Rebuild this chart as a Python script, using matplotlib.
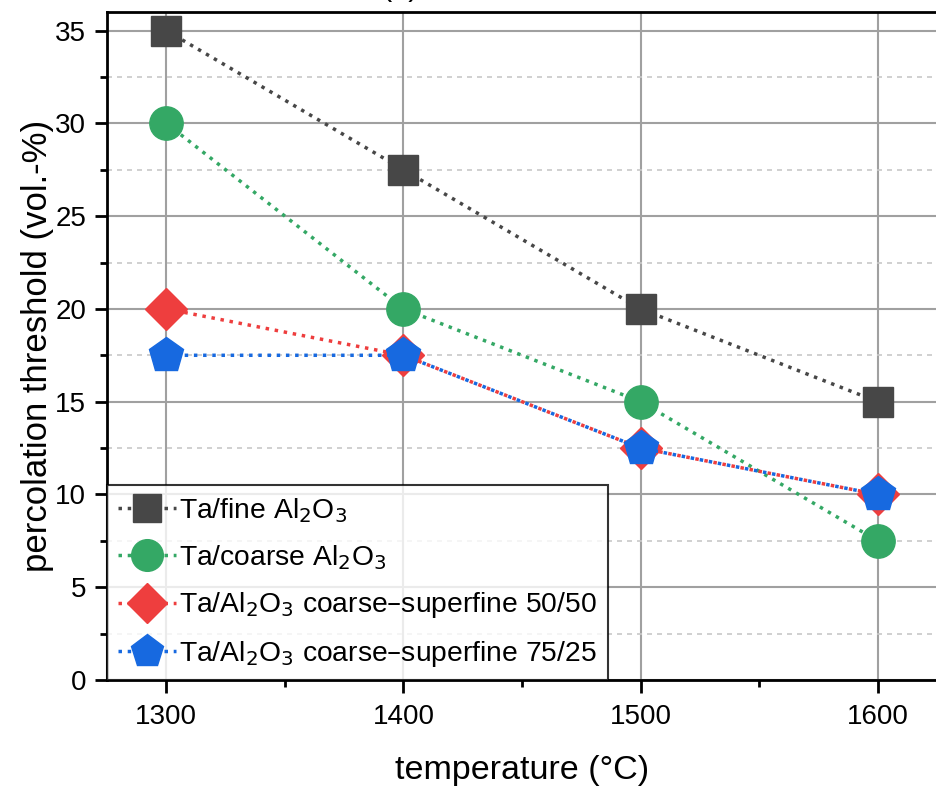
import matplotlib.pyplot as plt
from matplotlib.ticker import MultipleLocator

plt.rcParams['font.family'] = ['Liberation Sans', 'DejaVu Sans']

temps = [1300, 1400, 1500, 1600]
fine = [35, 27.5, 20, 15]
coarse = [30, 20, 15, 7.5]
mix_50 = [20, 17.5, 12.5, 10]
mix_75 = [17.5, 17.5, 12.5, 10]

labels = ["Ta/fine Al$_2$O$_3$",
          "Ta/coarse Al$_2$O$_3$",
          "Ta/Al$_2$O$_3$ coarse\u2013superfine 50/50",
          "Ta/Al$_2$O$_3$ coarse\u2013superfine 75/25"]

fig = plt.figure(figsize=(9.37, 7.87), dpi=100)
ax = fig.add_axes([107 / 937, 1 - 680 / 787, 1 - 107 / 937, (680 - 12) / 787])

ax.plot(temps, fine, ls=':', lw=2.5, color='#474747', marker='s', ms=21,
        label=labels[0], zorder=3)
ax.plot(temps, coarse, ls=':', lw=2.5, color='#34a865', marker='o', ms=24,
        label=labels[1], zorder=3)
ax.plot(temps, mix_50, ls=':', lw=2.5, color='#ee3e3e', marker='D', ms=21.5,
        label=labels[2], zorder=3)
ax.plot(temps, mix_75, ls=':', lw=2.5, color='#1769e0', marker='p', ms=26,
        label=labels[3], zorder=4)

ax.set_xlim(1275, 1625)
ax.set_ylim(0, 36)
ax.xaxis.set_major_locator(MultipleLocator(100))
ax.xaxis.set_minor_locator(MultipleLocator(50))
ax.yaxis.set_major_locator(MultipleLocator(5))
ax.yaxis.set_minor_locator(MultipleLocator(2.5))

ax.grid(True, which='major', color='#a0a0a0', lw=1.5)
ax.grid(True, which='minor', axis='y', color='#c8c8c8', lw=1.2, ls=(0, (3, 3)))
ax.set_axisbelow(True)

for s in ['left', 'bottom', 'top']:
    ax.spines[s].set_linewidth(2)
ax.spines['right'].set_visible(False)

ax.tick_params(which='major', direction='out', length=9, width=2, labelsize=20)
ax.tick_params(which='minor', direction='out', length=5, width=2)
ax.tick_params(axis='x', pad=8)
ax.tick_params(axis='y', pad=6)

ax.set_xlabel("temperature (\u00b0C)", fontsize=24.5, labelpad=18)
ax.set_ylabel("percolation threshold (vol.-%)", fontsize=25, labelpad=1)

# title sits mostly above the cropped figure edge, as in the source image
fig.text(400 / 937, 1 - 2 / 787, "(a)", fontsize=22, ha='center', va='bottom')

leg = ax.legend(loc='lower left', fontsize=20.3, frameon=True, fancybox=False,
                edgecolor='black', borderaxespad=0, handlelength=2.05,
                handletextpad=0.12, borderpad=0.4, labelspacing=0.65,
                markerscale=0.95)
leg.get_frame().set_linewidth(1.5)

fig.savefig("out.png", dpi=100)
